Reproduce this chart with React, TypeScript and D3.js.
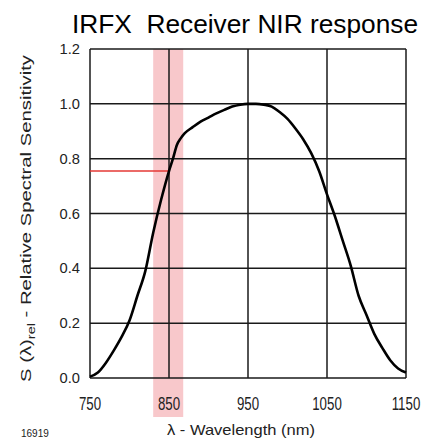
import * as d3 from 'd3'

// wavelength (nm) and relative sensitivity
const wavelengths = [
  750, 760, 770, 780, 790, 800, 810, 820, 830, 840, 850, 855, 860, 865, 870, 880, 890, 900, 910, 920, 930,
  940, 950, 960, 970, 980, 990, 1000, 1010, 1020, 1030, 1040, 1050, 1060, 1070, 1080, 1090, 1100, 1110,
  1120, 1130, 1140, 1150,
]
const sensitivity = [
  0.005, 0.02, 0.055, 0.1, 0.15, 0.21, 0.3, 0.39, 0.53, 0.65, 0.755, 0.8, 0.85, 0.875, 0.893, 0.915, 0.935,
  0.95, 0.965, 0.978, 0.99, 0.997, 1.0, 1.0, 0.997, 0.99, 0.97, 0.945, 0.91, 0.87, 0.82, 0.755, 0.67, 0.59,
  0.5, 0.41, 0.3, 0.23, 0.16, 0.11, 0.065, 0.035, 0.02,
]
const xTicks = [750, 850, 950, 1050, 1150]
const yTicks = [0, 0.2, 0.4, 0.6, 0.8, 1.0, 1.2]
const band = [830, 868]
const marker = { x: 850, y: 0.755 }

const W = 432
const H = 441
const margin = { top: 49, right: 26, bottom: 63, left: 90 }
const FONT = '"Liberation Sans", Arial, sans-serif'

export default function App() {
  const x = d3.scaleLinear().domain([750, 1150]).range([margin.left, W - margin.right])
  const y = d3.scaleLinear().domain([0, 1.2]).range([H - margin.bottom, margin.top])
  const pts = wavelengths.map((w, i) => [w, sensitivity[i]] as [number, number])
  const line = d3
    .line<[number, number]>()
    .x((d) => x(d[0]))
    .y((d) => y(d[1]))
    .curve(d3.curveMonotoneX)

  const [x0, x1] = x.range()
  const [y0, y1] = y.range()

  return (
    <svg
      width={W}
      height={H}
      style={{ position: 'absolute', left: 0, top: 0, background: '#fff' }}
      fontFamily={FONT}
    >
      <text
        x={245}
        y={33}
        fontSize={26}
        textAnchor="middle"
        textLength={346}
        lengthAdjust="spacingAndGlyphs"
        style={{ whiteSpace: 'pre' }}
      >
        {'IRFX  Receiver NIR response'}
      </text>

      <rect x={x(band[0])} y={y1} width={x(band[1]) - x(band[0])} height={417 - y1} fill="#f8c8cb" />

      <g stroke="#1a1a1a" strokeWidth={1.5}>
        {yTicks.map((t) => (
          <line key={t} x1={x0} x2={x1} y1={y(t)} y2={y(t)} />
        ))}
        {xTicks.map((t) => (
          <line key={t} x1={x(t)} x2={x(t)} y1={y0} y2={y1} />
        ))}
      </g>

      <line x1={x0} x2={x(marker.x)} y1={y(marker.y)} y2={y(marker.y)} stroke="#e53935" strokeWidth={1.5} />

      <path d={line(pts) ?? ''} fill="none" stroke="#000" strokeWidth={2.6} strokeLinejoin="round" />

      {yTicks.map((t) => (
        <text
          key={t}
          transform={`translate(80,${y(t) + 5}) scale(1.05,1)`}
          fontSize={14}
          textAnchor="end"
          fill="#222"
        >
          {t.toFixed(1)}
        </text>
      ))}
      {xTicks.map((t) => (
        <text
          key={t}
          transform={`translate(${x(t)},410) scale(0.95,1.3)`}
          fontSize={14}
          textAnchor="middle"
          fill="#222"
        >
          {t}
        </text>
      ))}

      <text
        transform={`translate(31,${(y0 + y1) / 2 + 5}) rotate(-90)`}
        fontSize={14}
        textAnchor="middle"
        fill="#222"
        textLength={327}
        lengthAdjust="spacingAndGlyphs"
      >
        S (λ)
        <tspan fontSize={10} dy={4}>
          rel
        </tspan>
        <tspan dy={-4}> - Relative Spectral Sensitivity</tspan>
      </text>

      <text x={241} y={435} fontSize={15} textAnchor="middle" fill="#222" textLength={148} lengthAdjust="spacingAndGlyphs">
        λ - Wavelength (nm)
      </text>
      <text x={21} y={437} fontSize={10} fill="#222">
        16919
      </text>
    </svg>
  )
}
